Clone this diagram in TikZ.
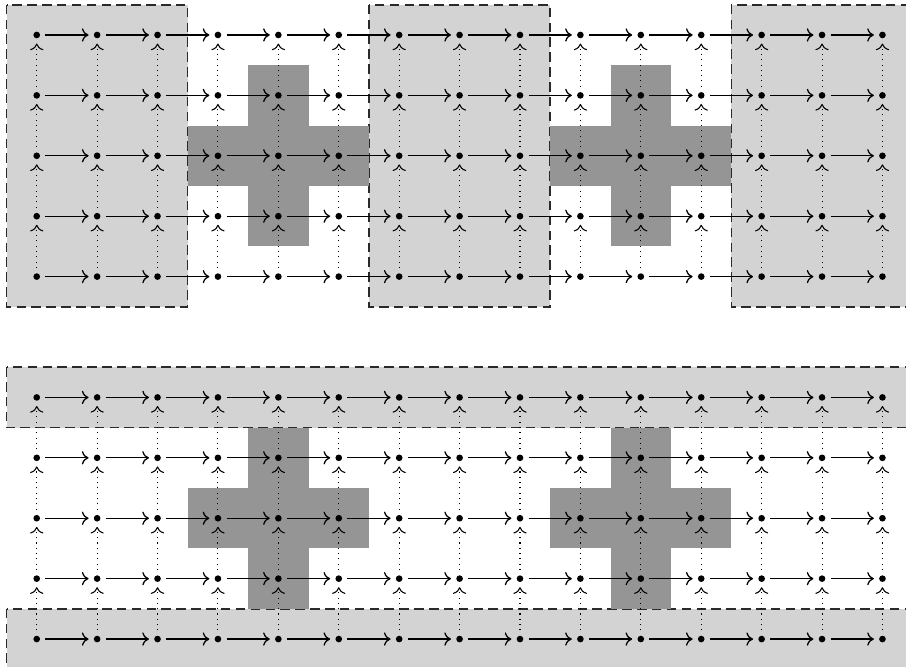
\documentclass[tikz,border=0pt]{standalone}
\usepackage{tikz}
\usetikzlibrary{arrows.meta,calc,backgrounds}
\definecolor{Ink}{HTML}{000000}
\definecolor{Shade}{HTML}{D3D3D3}
\definecolor{Block}{HTML}{959595}
\definecolor{Frame}{HTML}{2A2A2A}
\tikzset{
  pt/.style={circle,fill=Ink,inner sep=0pt,minimum size=1.1mm},
  hop/.style={-{To[length=1.1mm,width=2.2mm]},line width=.6pt,draw=Ink,shorten <=.8mm,shorten >=.8mm},
  lift/.style={-{To[length=1.1mm,width=2.2mm]},dotted,line width=.5pt,draw=Ink,shorten <=.8mm,shorten >=.8mm},
  halo/.style={fill=Shade,draw=Frame,line width=.7pt,dash pattern=on 4.5pt off 2.5pt},
  cross/.style={fill=Block,draw=none}
}

\begin{document}
\begin{tikzpicture}[x=1cm,y=1cm]
  \useasboundingbox (-0.608,0.579) rectangle (14.39,-10.45);
  % grid points
  \foreach \j in {0,1,2,3,4,6,7,8,9,10}
    \foreach \i in {0,...,14}
      \node[pt] (v-\i-\j) at (\i,-\j) {};
  % horizontal steps
  \foreach \j in {0,1,2,3,4,6,7,8,9,10}
    \foreach \i in {0,...,13} {
      \pgfmathtruncatemacro\nx{\i+1}
      \draw[hop] (v-\i-\j)--(v-\nx-\j);
    }
  % vertical steps
  \foreach \j in {0,1,2,3,6,7,8,9}
    \foreach \i in {0,...,14} {
      \pgfmathtruncatemacro\ny{\j+1}
      \draw[lift] (v-\i-\ny)--(v-\i-\j);
    }
  \begin{scope}[on background layer]
    \foreach \a/\b in {0/2,6/8,12/14}
      \draw[halo] ($(v-\a-0)+(-.5,.5)$) rectangle ($(v-\b-4)+(.5,-.5)$);
    \draw[halo] ($(v-0-6)+(-.5,.5)$) rectangle ($(v-14-6)+(.5,-.5)$);
    \draw[halo] ($(v-0-10)+(-.5,.5)$) rectangle ($(v-14-10)+(.5,-.5)$);
    \foreach \c in {v-4-2,v-10-2,v-4-8,v-10-8} {
      \fill[cross] ($(\c)+(-.5,-1.5)$) rectangle ($(\c)+(.5,1.5)$);
      \fill[cross] ($(\c)+(-1.5,-.5)$) rectangle ($(\c)+(1.5,.5)$);
    }
  \end{scope}
\end{tikzpicture}
\end{document}
